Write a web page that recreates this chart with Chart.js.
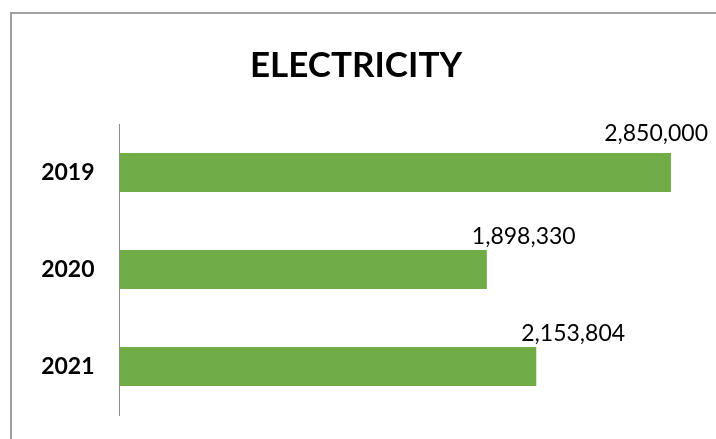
<!DOCTYPE html>
<html>
<head>
<meta charset="utf-8">
<script src="https://cdn.jsdelivr.net/npm/chart.js@4"></script>
<style>
  html, body { margin: 0; padding: 0; background: #ffffff; width: 716px; height: 439px; overflow: hidden; }
  #frame { position: absolute; left: 10px; top: 12px; width: 720px; height: 440px; border: 2px solid #a0a0a0; box-sizing: border-box; }
  #wrap { position: absolute; left: 0; top: 0; width: 716px; height: 439px; }
</style>
</head>
<body>
<div id="frame"></div>
<div id="wrap"><canvas id="c" width="716" height="439"></canvas></div>
<script>
const chartTitle = "ELECTRICITY";
const categories = ["2019", "2020", "2021"];
const values = [2850000, 1898330, 2153804];
const axisMax = 3000000;

const FONT = "Lato, 'Open Sans', sans-serif";

const valueLabels = {
  id: 'valueLabels',
  afterDatasetsDraw(chart) {
    const ctx = chart.ctx;
    const meta = chart.getDatasetMeta(0);
    ctx.save();
    ctx.font = "23px " + FONT;
    ctx.fillStyle = "#000000";
    ctx.textAlign = "left";
    ctx.textBaseline = "alphabetic";
    meta.data.forEach((bar, i) => {
      const txt = values[i].toLocaleString('en-US');
      const w = ctx.measureText(txt).width;
      let x = bar.x - 15;
      let lift = 6;
      const maxRight = 708;
      if (x + w > maxRight) { x = maxRight - w; lift = 12; }
      const top = bar.y - bar.height / 2;
      ctx.fillText(txt, x, top - lift);
    });
    ctx.restore();
  }
};

new Chart(document.getElementById('c'), {
  type: 'bar',
  data: {
    labels: categories,
    datasets: [{
      data: values,
      backgroundColor: '#70AD47',
      borderWidth: 0,
      categoryPercentage: 1.0,
      barPercentage: 0.4
    }]
  },
  options: {
    indexAxis: 'y',
    responsive: false,
    animation: false,
    devicePixelRatio: 1,
    layout: { padding: { left: 12, right: 16, top: 0, bottom: 24 } },
    plugins: {
      legend: { display: false },
      tooltip: { enabled: false },
      title: {
        display: true,
        text: chartTitle,
        color: '#000000',
        font: { family: FONT, size: 35, weight: 'bold', lineHeight: 1.2 },
        padding: { top: 45, bottom: 37 }
      }
    },
    scales: {
      x: {
        display: false,
        min: 0,
        max: axisMax
      },
      y: {
        afterFit(scale) { scale.width = 107.5; scale.paddingTop = 0; scale.paddingBottom = 0; },
        grid: { display: true, color: 'rgba(0,0,0,0)', drawTicks: false },
        border: { display: true, color: '#8c8c8c', width: 1 },
        ticks: {
          color: '#000000',
          padding: 25,
          font: { family: FONT, size: 23, weight: 'bold' }
        }
      }
    }
  },
  plugins: [valueLabels]
});
</script>
</body>
</html>
